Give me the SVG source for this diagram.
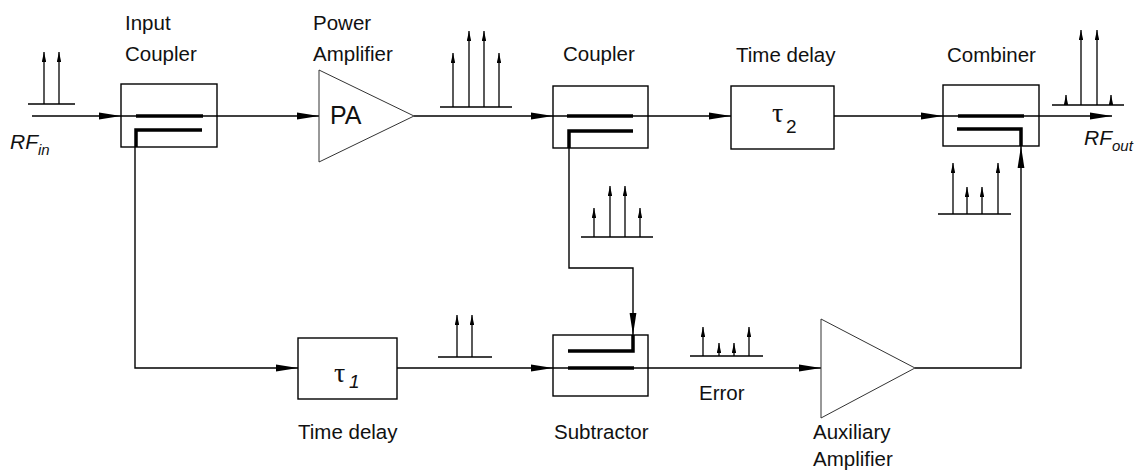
<svg xmlns="http://www.w3.org/2000/svg" width="1144" height="472" viewBox="0 0 1144 472">
<style>
.ln{fill:none;stroke:#000;stroke-width:1.4}
.thk{fill:none;stroke:#000;stroke-width:3.5}
.box{fill:#fff;stroke:#000;stroke-width:1.4}
.tri{fill:#fff;stroke:#333;stroke-width:1}
.sp{fill:none;stroke:#000;stroke-width:1.3}
.lbl{font-family:"Liberation Sans",Arial,sans-serif;font-size:20.5px;fill:#111}
.tau{font-family:"Liberation Serif","DejaVu Serif",serif;font-size:28px;fill:#111}
.sub{font-family:"Liberation Sans",Arial,sans-serif;font-size:19px;fill:#111}
.rf{font-family:"Liberation Sans",Arial,sans-serif;font-style:italic;font-size:21px;fill:#111}
</style>
<defs>
<marker id="ah" viewBox="0 0 22 8" refX="22" refY="4" markerWidth="22" markerHeight="8" orient="auto" markerUnits="userSpaceOnUse">
<path d="M0,0.6 L22,4 L0,7.4 z" fill="#000"/>
</marker>
<marker id="sa" viewBox="0 0 10 4.4" refX="10" refY="2.2" markerWidth="10" markerHeight="4.4" orient="auto" markerUnits="userSpaceOnUse">
<path d="M0,0 L10,2.2 L0,4.4 z" fill="#000"/>
</marker>
</defs>

<g id="connectors">
<path class="ln" d="M32,116 H121" marker-end="url(#ah)"/>
<path class="ln" d="M121,116 H217"/>
<path class="ln" d="M217,116 H319" marker-end="url(#ah)"/>
<path class="ln" d="M414,116 H553" marker-end="url(#ah)"/>
<path class="ln" d="M553,116 H648"/>
<path class="ln" d="M648,116 H731" marker-end="url(#ah)"/>
<path class="ln" d="M834,116 H943" marker-end="url(#ah)"/>
<path class="ln" d="M943,116 H1039"/>
<path class="ln" d="M1039,116 H1112" marker-end="url(#ah)"/>
<path class="ln" d="M135,147 V368 H298" marker-end="url(#ah)"/>
<path class="ln" d="M569,148 V268 H633 V335" marker-end="url(#ah)"/>
<path class="ln" d="M397,368 H553" marker-end="url(#ah)"/>
<path class="ln" d="M553,368 H648"/>
<path class="ln" d="M648,368 H821" marker-end="url(#ah)"/>
<path class="ln" d="M915,368 H1021 V146" marker-end="url(#ah)"/>
</g>

<g id="input-coupler">
<rect class="box" x="121" y="84" width="96" height="63" fill="none"/>
<path class="ln" d="M121,116 H217"/>
<path class="thk" d="M136,116 H203"/>
<path class="thk" d="M202,130 H136 V147"/>
<text class="lbl" x="125" y="30">Input</text>
<text class="lbl" x="125" y="61">Coupler</text>
</g>

<g id="power-amplifier">
<path class="tri" d="M319,70 L414,116 L319,162 z"/>
<text class="lbl" x="330" y="124" style="font-size:25px">PA</text>
<text class="lbl" x="313" y="30">Power</text>
<text class="lbl" x="313" y="61">Amplifier</text>
</g>

<g id="coupler">
<rect class="box" x="553" y="86" width="95" height="62"/>
<path class="ln" d="M553,116 H648"/>
<path class="thk" d="M567,116 H633"/>
<path class="thk" d="M633,131 H569 V148"/>
<text class="lbl" x="563" y="61">Coupler</text>
</g>

<g id="time-delay-2">
<rect class="box" x="731" y="86" width="103" height="63"/>
<text class="tau" x="772" y="122">τ</text>
<text class="sub" x="786" y="133">2</text>
<text class="lbl" x="736" y="62">Time delay</text>
</g>

<g id="combiner">
<rect class="box" x="943" y="85" width="96" height="61"/>
<path class="ln" d="M943,116 H1039"/>
<path class="thk" d="M958,116 H1024"/>
<path class="thk" d="M957,129 H1021 V146"/>
<text class="lbl" x="947" y="62">Combiner</text>
</g>

<g id="time-delay-1">
<rect class="box" x="298" y="338" width="99" height="61"/>
<text class="tau" x="334" y="382">τ</text>
<text class="sub" x="349" y="388" font-style="italic">1</text>
<text class="lbl" x="298" y="439">Time delay</text>
</g>

<g id="subtractor">
<rect class="box" x="553" y="335" width="95" height="61"/>
<path class="ln" d="M553,368 H648"/>
<path class="thk" d="M568,351 H633 V335"/>
<path class="thk" d="M568,368 H634"/>
<text class="lbl" x="554" y="439">Subtractor</text>
</g>

<g id="auxiliary-amplifier">
<path class="tri" d="M821,319 L915,368 L821,418 z"/>
<text class="lbl" x="813" y="439">Auxiliary</text>
<text class="lbl" x="813" y="466">Amplifier</text>
</g>

<g id="rf-in">
<text class="rf" x="10" y="149">RF<tspan font-size="15" dy="6">in</tspan></text>
</g>

<g id="rf-out">
<text class="rf" x="1084" y="145">RF<tspan font-size="15" dy="6">out</tspan></text>
</g>

<g id="error-label">
<text class="lbl" x="699" y="400">Error</text>
</g>

<g id="spectra">
<path class="sp" d="M28,104 H75"/>
<path class="sp" d="M44,104 V52" marker-end="url(#sa)"/>
<path class="sp" d="M59,104 V52" marker-end="url(#sa)"/>

<path class="sp" d="M440,107 H512"/>
<path class="sp" d="M453,107 V53" marker-end="url(#sa)"/>
<path class="sp" d="M469,107 V31" marker-end="url(#sa)"/>
<path class="sp" d="M484,107 V31" marker-end="url(#sa)"/>
<path class="sp" d="M499,107 V53" marker-end="url(#sa)"/>

<path class="sp" d="M1052,105 H1124"/>
<path class="sp" d="M1066,105 V95" marker-end="url(#sa)"/>
<path class="sp" d="M1081,105 V30" marker-end="url(#sa)"/>
<path class="sp" d="M1097,105 V30" marker-end="url(#sa)"/>
<path class="sp" d="M1111,105 V95" marker-end="url(#sa)"/>

<path class="sp" d="M581,237 H653"/>
<path class="sp" d="M594,237 V208" marker-end="url(#sa)"/>
<path class="sp" d="M610,237 V186" marker-end="url(#sa)"/>
<path class="sp" d="M625,237 V186" marker-end="url(#sa)"/>
<path class="sp" d="M640,237 V208" marker-end="url(#sa)"/>

<path class="sp" d="M938,214 H1011"/>
<path class="sp" d="M953,214 V163" marker-end="url(#sa)"/>
<path class="sp" d="M967,214 V187" marker-end="url(#sa)"/>
<path class="sp" d="M982,214 V187" marker-end="url(#sa)"/>
<path class="sp" d="M998,214 V163" marker-end="url(#sa)"/>

<path class="sp" d="M438,357 H492"/>
<path class="sp" d="M457,357 V315" marker-end="url(#sa)"/>
<path class="sp" d="M472,357 V315" marker-end="url(#sa)"/>

<path class="sp" d="M690,356 H763"/>
<path class="sp" d="M703,356 V327" marker-end="url(#sa)"/>
<path class="sp" d="M719,356 V343" marker-end="url(#sa)"/>
<path class="sp" d="M734,356 V343" marker-end="url(#sa)"/>
<path class="sp" d="M749,356 V327" marker-end="url(#sa)"/>
</g>
</svg>
